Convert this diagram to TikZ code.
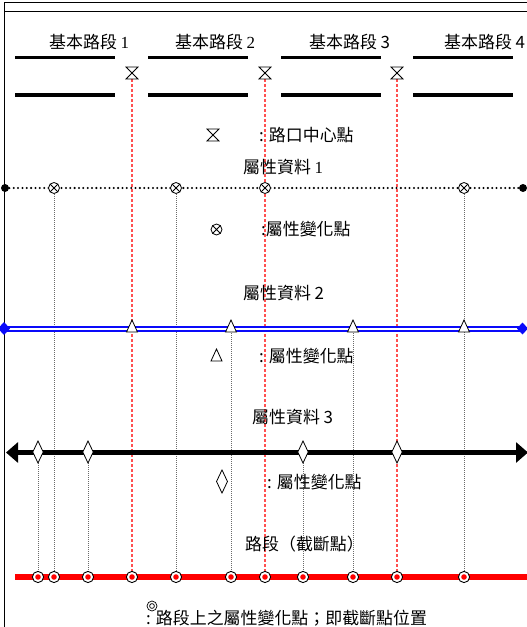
\documentclass[tikz,border=0pt]{standalone}
\usepackage{fontspec}
\usetikzlibrary{arrows.meta}
\newfontfamily\cjk{Noto Sans CJK TC}
\newfontfamily\tms{Liberation Serif}
\definecolor{dashred}{RGB}{255,80,80}
\definecolor{lineblue}{RGB}{10,10,250}
\definecolor{vgray}{RGB}{105,105,105}
\tikzset{
 hourglass/.pic={\draw[line width=0.8bp,fill=white] (-6,-6)--(6,-6)--(-6,6)--(6,6)--cycle;},
 otimes/.pic={\draw[line width=0.8bp,fill=white] (0,0) circle (5.5);
   \draw[line width=0.8bp] (-3.9,-3.9)--(3.9,3.9) (-3.9,3.9)--(3.9,-3.9);},
 tri/.pic={\draw[line width=0.8bp,fill=white] (-5.5,5)--(5.5,5)--(0,-7)--cycle;},
 diam/.pic={\draw[line width=0.8bp,fill=white] (-5.2,0)--(0,-11)--(5.2,0)--(0,11)--cycle;},
 cutpt/.pic={\draw[line width=0.9bp,fill=white] (0,0) circle (5.6); \fill[red] (0,0) circle (2.8);},
 bullseye/.pic={\draw[line width=0.7bp] (0,0) circle (5); \draw[line width=0.7bp] (0,0) circle (2.4);}
}
\begin{document}
\begin{tikzpicture}[x=1bp,y=-1bp,
 txt/.style={font=\cjk\fontsize{17}{20}\selectfont,inner sep=0pt,anchor=west},
 seg/.style={line width=3.6bp},
 vdot/.style={vgray,line width=0.5bp,dash pattern=on 1bp off 1bp},
 rdash/.style={dashred,line width=1.1bp,dash pattern=on 3bp off 2bp}]
\useasboundingbox (0,0) rectangle (527,627);
% frame
\draw[line width=1bp] (4,627) -- (4,3) -- (527,3);
\draw[line width=1bp] (4,12) -- (527,12);
% base segments
\foreach \a/\b in {15/115,148/248,281/381,413/513}{
  \draw[seg] (\a,57.5) -- (\b,57.5);
  \draw[seg] (\a,95) -- (\b,95);
}
\node[txt] (b1) at (49,42) {基本路段 {\tms 1}};
\node[txt] (b2) at (175,42) {基本路段 {\tms 2}};
\node[txt] (b3) at (309,42) {基本路段 3};
\node[txt] (b4) at (444,42) {基本路段 4};
% coordinates
\foreach \x in {38,54,88,132,176,231,265,303,353,397,464}{
  \coordinate (c\x) at (\x,577);
}
\foreach \x in {132,265,397}{ \coordinate (h\x) at (\x,73); }
% red dashed
\foreach \x in {132,265,397}{ \draw[rdash] (h\x) ++(0,6) -- (c\x); }
% gray dotted
\foreach \x/\y in {38/453,54/188,88/453,176/188,231/327,303/453,353/327,464/188}{
  \coordinate (g\x) at (\x,\y);
  \draw[vdot] (g\x) -- (c\x);
}
% hourglasses
\foreach \x in {132,265,397}{ \pic at (h\x) {hourglass}; }
\pic at (213,135) {hourglass};
\node[txt] (l1) at (259,135) {: 路口中心點};
% row 1
\node[txt] (t1) at (243,167) {屬性資料 {\tms 1}};
\draw[line width=2.3bp, dash pattern=on 0bp off 4.35bp, line cap=round] (5,188) -- (523,188);
\fill (5,188) circle (4);
\fill (523,188) circle (4);
\foreach \x in {54,176,265,464}{ \pic at (\x,188) {otimes}; }
\pic at (216.5,229.5) {otimes};
\node[txt] (l2) at (261,229.5) {:屬性變化點};
% row 2
\node[txt] (t2) at (243,293) {屬性資料 2};
\draw[lineblue, line width=2bp, double=white, double distance=2bp] (5,328.5) -- (523,328.5);
\fill[lineblue] (-2,328.5) -- (4,322) -- (10,328.5) -- (4,335) -- cycle;
\fill[lineblue] (517,328.5) -- (522.5,322.5) -- (528,328.5) -- (522.5,334.5) -- cycle;
\foreach \x in {132,231,353,464}{ \pic at (\x,327) {tri}; }
\pic at (216.5,356) {tri};
\node[txt] (l3) at (259,356) {: 屬性變化點};
% row 3
\node[txt] (t3) at (252,417) {屬性資料 3};
\draw[line width=5.5bp, {Triangle[length=12bp,width=20bp]}-{Triangle[length=12bp,width=20bp]}] (6,452.5) -- (528,452.5);
\foreach \x in {38,88,303,397}{ \pic at (\x,452) {diam}; }
\pic[scale=1.05] at (222,481.5) {diam};
\node[txt] (l4) at (267,482) {: 屬性變化點};
% row 4
\node[txt] (t4) at (245,544) {路段（截斷點）};
\draw[red, line width=6bp] (15,577) -- (527,577);
\foreach \x in {38,54,88,132,176,231,265,303,353,397,464}{ \pic at (c\x) {cutpt}; }
\pic at (152,606) {bullseye};
\node[txt] (l5) at (146,618) {: 路段上之屬性變化點；即截斷點位置};
\end{tikzpicture}
\end{document}
